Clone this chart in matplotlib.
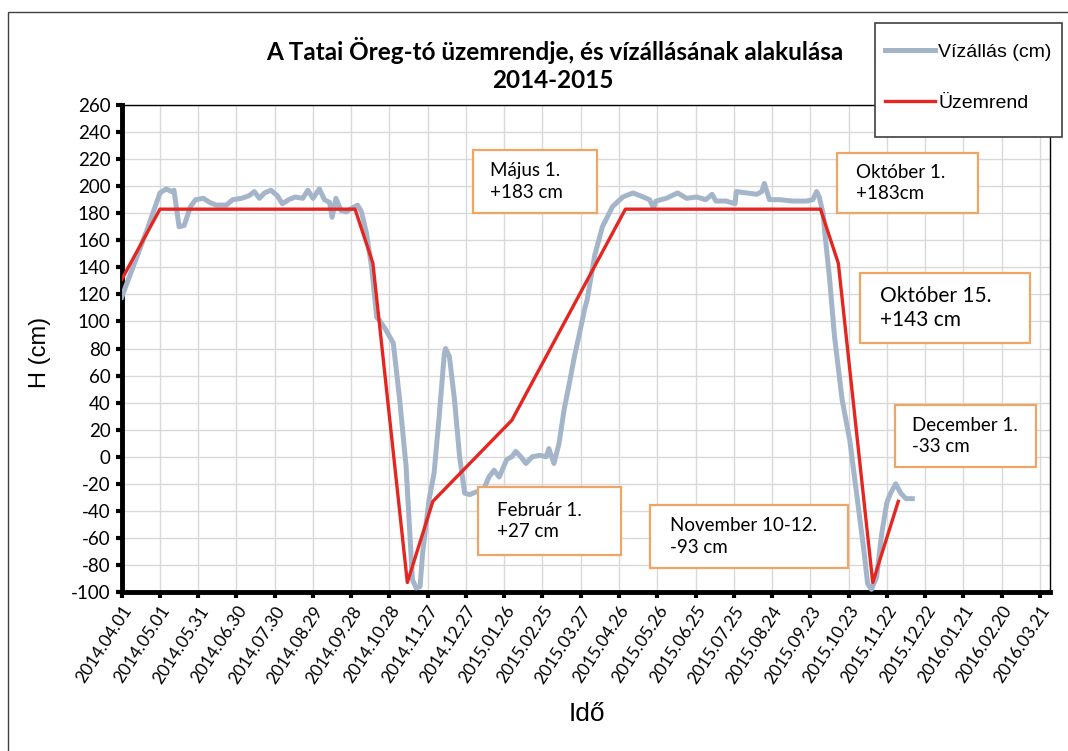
import pandas as pd
import matplotlib
matplotlib.use("Agg")
import matplotlib.pyplot as plt
import matplotlib.dates as mdates
from matplotlib.patches import Rectangle

# Vízállás (cm)
gray_dates = [
    "2014-04-01", "2014-04-05", "2014-04-21", "2014-05-01", "2014-05-06", "2014-05-10",
    "2014-05-12", "2014-05-16", "2014-05-20", "2014-05-25", "2014-05-29", "2014-06-04",
    "2014-06-09", "2014-06-14", "2014-06-22", "2014-06-27", "2014-07-04", "2014-07-10",
    "2014-07-14", "2014-07-18", "2014-07-22", "2014-07-27", "2014-08-01", "2014-08-05",
    "2014-08-10", "2014-08-15", "2014-08-21", "2014-08-25", "2014-08-29", "2014-09-03",
    "2014-09-07", "2014-09-11", "2014-09-13", "2014-09-16", "2014-09-20", "2014-09-24",
    "2014-09-29", "2014-10-03", "2014-10-06", "2014-10-10", "2014-10-14", "2014-10-18",
    "2014-10-20", "2014-10-25", "2014-10-31", "2014-11-05", "2014-11-10", "2014-11-13",
    "2014-11-15", "2014-11-18", "2014-11-21", "2014-11-23", "2014-11-28", "2014-12-02",
    "2014-12-06", "2014-12-10", "2014-12-11", "2014-12-14", "2014-12-18", "2014-12-22",
    "2014-12-26", "2014-12-30", "2015-01-04", "2015-01-09", "2015-01-14", "2015-01-18",
    "2015-01-22", "2015-01-28", "2015-02-01", "2015-02-04", "2015-02-08", "2015-02-12",
    "2015-02-17", "2015-02-23", "2015-02-28", "2015-03-02", "2015-03-06", "2015-03-10",
    "2015-03-14", "2015-03-18", "2015-03-22", "2015-03-26", "2015-03-30", "2015-04-01",
    "2015-04-07", "2015-04-13", "2015-04-21", "2015-04-29", "2015-05-07", "2015-05-15",
    "2015-05-20", "2015-05-23", "2015-05-25", "2015-06-02", "2015-06-11", "2015-06-18",
    "2015-06-26", "2015-07-03", "2015-07-08", "2015-07-11", "2015-07-19", "2015-07-26",
    "2015-07-27", "2015-08-04", "2015-08-12", "2015-08-16", "2015-08-18", "2015-08-22",
    "2015-08-30", "2015-09-09", "2015-09-20", "2015-09-25", "2015-09-28", "2015-09-30",
    "2015-10-03", "2015-10-05", "2015-10-08", "2015-10-12", "2015-10-18", "2015-10-24",
    "2015-10-30", "2015-11-04", "2015-11-07", "2015-11-10", "2015-11-14", "2015-11-18",
    "2015-11-22", "2015-11-25", "2015-11-29", "2015-12-03", "2015-12-07", "2015-12-12",
]
gray_vals = [
    118, 128, 168, 195, 198, 196,
    197, 170, 171, 185, 190, 191,
    188, 186, 186, 190, 191, 193,
    196, 191, 195, 197, 193, 187,
    190, 192, 191, 197, 191, 198,
    190, 188, 177, 191, 182, 181,
    184, 186, 181, 165, 140, 103,
    101, 94, 84, 42, -7, -57,
    -91, -97, -96, -71, -32, -12,
    30, 76, 80, 74, 42, 0,
    -27, -28, -26, -26, -15, -10,
    -15, -2, 0, 4, 0, -5,
    0, 1, 0, 6, -5, 10,
    35, 54, 74, 91, 109, 116,
    149, 170, 185, 192, 195, 192,
    190, 184, 189, 191, 195, 191,
    192, 190, 194, 189, 189, 187,
    196, 195, 194, 196, 202, 190,
    190, 189, 189, 190, 196, 192,
    180, 160, 133, 89, 42, 12,
    -32, -69, -94, -98, -89, -57,
    -34, -27, -20, -27, -31, -31,
]

# Üzemrend
red_dates = ["2014-04-01", "2014-05-01", "2014-10-01", "2014-10-15", "2014-11-11", "2014-12-01",
             "2015-02-01", "2015-05-01", "2015-10-01", "2015-10-15", "2015-11-11", "2015-12-01"]
red_vals = [131, 183, 183, 143, -93, -33, 27, 183, 183, 143, -93, -33]

yticks = list(range(-100, 261, 20))

W, H = 1068, 751


def fx(px):
    return px / W


def fy(py):
    return 1 - py / H


def to_num(dates):
    return mdates.date2num(pd.to_datetime(dates).to_pydatetime())


fig = plt.figure(figsize=(W / 100, H / 100), dpi=100)
ax = fig.add_axes([fx(121.7), fy(592), fx(1050) - fx(121.7), fy(105) - fy(592)])

ax.plot(to_num(gray_dates), gray_vals, color="#A5B5C9", lw=3.6, solid_joinstyle="round",
        label="Vízállás (cm)", zorder=3)
ax.plot(to_num(red_dates), red_vals, color="#E52620", lw=2.4, label="Üzemrend", zorder=4)

start = pd.Timestamp("2014-04-01")
ticks = pd.date_range(start, "2016-03-21", freq="30D")
ax.set_xlim(to_num([start])[0], to_num(["2016-03-29"])[0])
ax.set_xticks(to_num(ticks))
ax.set_xticklabels([t.strftime("%Y.%m.%d") for t in ticks], rotation=57, ha="right",
                   rotation_mode="anchor", fontfamily="Lato", fontsize=12.5)
ax.set_ylim(-100, 260)
ax.set_yticks(yticks)
ax.set_yticklabels([str(v) for v in yticks], fontfamily="Lato", fontsize=13.5)
ax.tick_params(axis="both", length=4, width=3, color="black", pad=4)

ax.grid(color="#D9D9D9", lw=1)
ax.set_axisbelow(True)
for s in ["left", "bottom"]:
    ax.spines[s].set_linewidth(3.5)
for s in ["top", "right"]:
    ax.spines[s].set_linewidth(1)

# outer frame
fig.add_artist(Rectangle((fx(8), fy(770)), fx(1090) - fx(8), fy(12) - fy(770),
                         transform=fig.transFigure, fill=False, ec="#404040", lw=1))

fig.text(fx(555), fy(50), "A Tatai Öreg-tó üzemrendje, és vízállásának alakulása",
         ha="center", va="center", fontfamily="Lato", fontweight="bold", fontsize=17.5)
fig.text(fx(553), fy(80), "2014-2015", ha="center", va="center", fontfamily="Lato",
         fontweight="bold", fontsize=17.5)
fig.text(fx(40), fy(352), "H (cm)", rotation=90, ha="center", va="center",
         fontfamily="Liberation Sans", fontsize=17)
fig.text(fx(587), fy(714), "Idő", ha="center", va="center",
         fontfamily="Liberation Sans", fontsize=19)

# legend frame drawn separately
fig.add_artist(Rectangle((fx(875), fy(137)), fx(1062) - fx(875), fy(23) - fy(137),
                         transform=fig.transFigure, fc="white", ec="#404040", lw=1.2,
                         zorder=9))
leg = fig.legend(loc="upper right", bbox_to_anchor=(fx(1067), fy(28)),
                 bbox_transform=fig.transFigure, frameon=False,
                 prop={"family": "Liberation Sans", "size": 14},
                 handlelength=2.6, handletextpad=0.15, labelspacing=1.7, borderpad=0.8,
                 borderaxespad=0)
leg.set_zorder(10)

boxes = [
    (473, 150, 597, 213, 490, "Május 1.\n+183 cm", 13.5),
    (837, 153, 978, 213, 856, "Október 1.\n+183cm", 13.5),
    (860, 273, 1030, 343, 880, "Október 15.\n+143 cm", 15),
    (895, 405, 1036, 467, 912, "December 1.\n-33 cm", 13.5),
    (478, 487, 621, 555, 497, "Február 1.\n+27 cm", 13.5),
    (650, 505, 848, 568, 670, "November 10-12.\n-93 cm", 13.5),
]
for x0, y0, x1, y1, tx, txt, size in boxes:
    fig.add_artist(Rectangle((fx(x0), fy(y1)), fx(x1) - fx(x0), fy(y0) - fy(y1),
                             transform=fig.transFigure, fc="white", ec="#F0A565", lw=1.6,
                             zorder=8))
    fig.text(fx(tx), fy((y0 + y1) / 2), txt, ha="left", va="center", fontfamily="Lato",
             fontsize=size, linespacing=1.3, zorder=9)

fig.savefig("out.png", dpi=100)
